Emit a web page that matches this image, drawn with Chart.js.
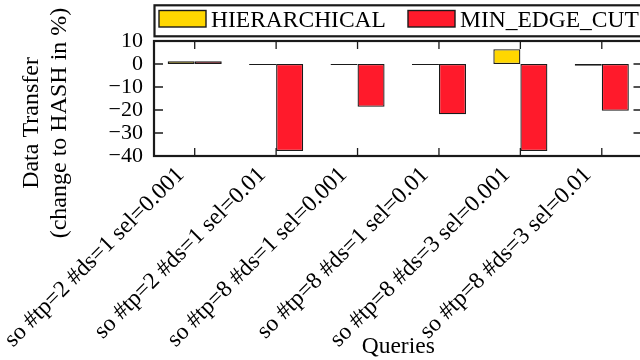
<!DOCTYPE html>
<html>
<head>
<meta charset="utf-8">
<script src="https://cdn.jsdelivr.net/npm/chart.js@4/dist/chart.umd.min.js"></script>
<style>
  html, body { margin: 0; padding: 0; background: #fff; overflow: hidden; width: 640px; height: 360px; }
  #wrap { position: absolute; left: 0; top: 0; width: 680px; height: 360px; }
</style>
</head>
<body>
<div id="wrap"><canvas id="c" width="680" height="360"></canvas></div>
<script>
// Query configurations on the x axis
const categories = [
  'so #tp=2 #ds=1 sel=0.001',
  'so #tp=2 #ds=1 sel=0.01',
  'so #tp=8 #ds=1 sel=0.001',
  'so #tp=8 #ds=1 sel=0.01',
  'so #tp=8 #ds=3 sel=0.001',
  'so #tp=8 #ds=3 sel=0.01'
];

// Data transfer, change relative to HASH partitioning (%)
const hierarchical = [1.2, -0.1, -0.3, -0.1, 6.4, -0.8];
const minEdgeCut  = [1.2, -37.8, -18.6, -21.9, -37.8, -20.3];

const seriesNames = ['HIERARCHICAL', 'MIN_EDGE_CUT'];
const seriesColors = ['#FFD700', '#FF1A2B'];

const yMin = -40, yMax = 10, yStep = 10;
const yTitleLines = ['Data Transfer', '(change to HASH in %)'];
const xTitle = 'Queries';

const SERIF = 'Liberation Serif';
const INK = '#1a1a1a';

// Frame, inward tick marks, boxed legend and two-line y title
const decorations = {
  id: 'decorations',
  afterDatasetsDraw(chart) {
    const ctx = chart.ctx;
    const a = chart.chartArea;
    const xs = chart.scales.x, ys = chart.scales.y;
    ctx.save();

    // inward tick marks
    ctx.strokeStyle = INK;
    ctx.lineWidth = 1.3;
    ctx.beginPath();
    ys.ticks.forEach((t, i) => {
      const py = ys.getPixelForTick(i);
      ctx.moveTo(a.left, py); ctx.lineTo(a.left + 9, py);
      ctx.moveTo(a.right, py); ctx.lineTo(a.right - 9, py);
    });
    categories.forEach((c, i) => {
      const px = xs.getPixelForValue(i);
      ctx.moveTo(px, a.top); ctx.lineTo(px, a.top + 8);
      ctx.moveTo(px, a.bottom); ctx.lineTo(px, a.bottom - 8);
    });
    ctx.stroke();

    // plot frame
    ctx.lineWidth = 2.2;
    ctx.strokeRect(a.left, a.top, a.right - a.left, a.bottom - a.top);

    // legend box
    const lx = a.left + 0.5, ly = 5.3, lh = 31;
    ctx.strokeRect(lx, ly, 700 - lx, lh);
    const items = [
      { sx: 159, tx: 211 },
      { sx: 408, tx: 460 }
    ];
    ctx.font = '23.5px "' + SERIF + '", serif';
    ctx.textAlign = 'left';
    ctx.textBaseline = 'alphabetic';
    chart.data.datasets.forEach((ds, i) => {
      const it = items[i];
      ctx.fillStyle = ds.backgroundColor;
      ctx.fillRect(it.sx, 10.5, 47, 16.5);
      ctx.lineWidth = 1.4;
      ctx.strokeStyle = INK;
      ctx.strokeRect(it.sx, 10.5, 47, 16.5);
      ctx.fillStyle = '#000';
      ctx.fillText(ds.label, it.tx, 27);
    });

    // y axis title, two rotated lines
    ctx.font = '24px "' + SERIF + '", serif';
    ctx.textAlign = 'center';
    ctx.fillStyle = '#000';
    const baseX = [38.3, 65.5];
    yTitleLines.forEach((line, i) => {
      ctx.save();
      ctx.translate(baseX[i], 123);
      ctx.rotate(-Math.PI / 2);
      ctx.fillText(line, 0, 0);
      ctx.restore();
    });
    ctx.restore();
  }
};

new Chart(document.getElementById('c'), {
  type: 'bar',
  data: {
    labels: categories,
    datasets: [
      { label: seriesNames[0], data: hierarchical, backgroundColor: seriesColors[0] },
      { label: seriesNames[1], data: minEdgeCut, backgroundColor: seriesColors[1] }
    ]
  },
  options: {
    responsive: false,
    animation: false,
    devicePixelRatio: 1,
    layout: { padding: { top: 41, right: 37.5, left: 0, bottom: 0 } },
    datasets: {
      bar: {
        borderColor: INK,
        borderWidth: 1.3,
        borderSkipped: false,
        categoryPercentage: 0.664,
        barPercentage: 1,
        minBarLength: 1
      }
    },
    plugins: {
      legend: { display: false },
      tooltip: { enabled: false }
    },
    scales: {
      x: {
        grid: { display: false, drawTicks: false },
        border: { display: false },
        ticks: {
          color: '#000',
          font: { family: SERIF, size: 23.5, lineHeight: 1 },
          minRotation: 45,
          maxRotation: 45,
          padding: 7,
          labelOffset: -14,
          autoSkip: false
        },
        title: {
          display: true,
          text: xTitle,
          color: '#000',
          font: { family: SERIF, size: 23.5, lineHeight: 1 },
          padding: { top: 0, bottom: 1 }
        },
        afterFit(scale) { scale.height = 204; }
      },
      y: {
        min: yMin,
        max: yMax,
        grid: { display: false, drawTicks: false },
        border: { display: false },
        ticks: {
          stepSize: yStep,
          autoSkip: false,
          color: '#000',
          padding: 11,
          font: { family: SERIF, size: 22 },
          callback: v => (v < 0 ? '\u2212' + Math.abs(v) : String(v))
        },
        afterFit(scale) { scale.width = 154; }
      }
    }
  },
  plugins: [decorations]
});
</script>
</body>
</html>
